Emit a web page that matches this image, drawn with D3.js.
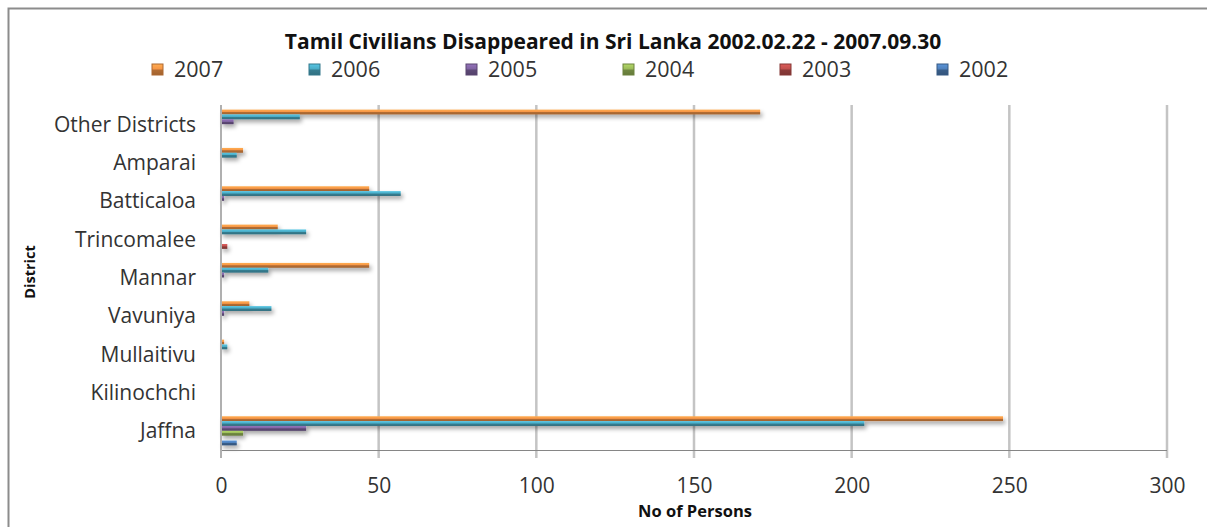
<!DOCTYPE html>
<html>
<head>
<meta charset="utf-8">
<script src="https://cdnjs.cloudflare.com/ajax/libs/d3/7.8.5/d3.min.js"></script>
<style>
  body { margin: 0; background: #fff; }
  svg { display: block; }
</style>
</head>
<body>
<div id="chart"></div>
<script>
// districts, bottom (Jaffna) to top (Other Districts)
let districts = ["Jaffna", "Kilinochchi", "Mullaitivu", "Vavuniya", "Mannar",
                 "Trincomalee", "Batticaloa", "Amparai", "Other Districts"];

let years = ["2007", "2006", "2005", "2004", "2003", "2002"];

// values per year, same order as districts
let v2007 = [248, 0, 1, 9, 47, 18, 47, 7, 171];
let v2006 = [204, 0, 2, 16, 15, 27, 57, 5, 25];
let v2005 = [27, 0, 0, 1, 1, 0, 1, 0, 4];
let v2004 = [7, 0, 0, 0, 0, 0, 0, 0, 0];
let v2003 = [0, 0, 0, 0, 0, 2, 0, 0, 0];
let v2002 = [5, 0, 0, 0, 0, 0, 0, 0, 0];

let xTicks = [0, 50, 100, 150, 200, 250, 300];

let seriesValues = { "2007": v2007, "2006": v2006, "2005": v2005,
                     "2004": v2004, "2003": v2003, "2002": v2002 };

let colors = { "2007": "#F79646", "2006": "#4BACC6", "2005": "#8064A2",
               "2004": "#9BBB59", "2003": "#C0504D", "2002": "#4F81BD" };

let svgWidth = 1207;
let svgHeight = 527;

let plot = { left: 221, right: 1167, top: 105, bottom: 450 };

let svg = d3.select("#chart")
  .append("svg")
  .attr("width", svgWidth)
  .attr("height", svgHeight);

let defs = svg.append("defs");

// soft shadow under the bars
let shadow = defs.append("filter")
  .attr("id", "shadow")
  .attr("x", "-5%").attr("y", "-50%")
  .attr("width", "120%").attr("height", "300%");
shadow.append("feDropShadow")
  .attr("dx", 2).attr("dy", 3)
  .attr("stdDeviation", 2)
  .attr("flood-color", "#000")
  .attr("flood-opacity", 0.35);

// bevelled look for each series colour
years.forEach(function(y) {
  let c = d3.color(colors[y]);
  let g = defs.append("linearGradient")
    .attr("id", "grad" + y)
    .attr("x1", 0).attr("y1", 0).attr("x2", 0).attr("y2", 1);
  g.append("stop").attr("offset", "0%").attr("stop-color", c.brighter(0.4));
  g.append("stop").attr("offset", "45%").attr("stop-color", c);
  g.append("stop").attr("offset", "55%").attr("stop-color", c.darker(0.9));
  g.append("stop").attr("offset", "100%").attr("stop-color", c.darker(1.2));
});

// chart border
svg.append("rect")
  .attr("x", 8.5).attr("y", 8.5)
  .attr("width", 1220).attr("height", 540)
  .attr("fill", "none")
  .attr("stroke", "#8c8c8c")
  .attr("stroke-width", 2);

let xScale = d3.scaleLinear()
  .domain([0, 300])
  .range([plot.left, plot.right]);

let yScale = d3.scaleBand()
  .domain(districts.slice().reverse())
  .range([plot.top, plot.bottom])
  .paddingInner(0.24)
  .paddingOuter(0.12);

let yInner = d3.scaleBand()
  .domain(years)
  .range([0, yScale.bandwidth()]);

// vertical gridlines
svg.append("g")
  .selectAll("line")
  .data(xTicks.slice(1))
  .enter()
  .append("line")
  .attr("x1", d => xScale(d)).attr("x2", d => xScale(d))
  .attr("y1", plot.top).attr("y2", plot.bottom + 8)
  .attr("stroke", "#c4c4c4")
  .attr("stroke-width", 2.5);

// bars
let barGroup = svg.append("g").attr("filter", "url(#shadow)");
years.forEach(function(y) {
  barGroup.append("g")
    .selectAll("rect")
    .data(districts.map((d, i) => ({ district: d, value: seriesValues[y][i] })).filter(d => d.value > 0))
    .enter()
    .append("rect")
    .attr("x", xScale(0))
    .attr("y", d => yScale(d.district) + yInner(y))
    .attr("width", d => xScale(d.value) - xScale(0))
    .attr("height", yInner.bandwidth())
    .attr("fill", "url(#grad" + y + ")");
});

// x axis line and left axis line
svg.append("line")
  .attr("x1", plot.left).attr("x2", plot.right)
  .attr("y1", plot.bottom + 0.5).attr("y2", plot.bottom + 0.5)
  .attr("stroke", "#868686").attr("stroke-width", 1);
svg.append("line")
  .attr("x1", plot.left).attr("x2", plot.left)
  .attr("y1", plot.top).attr("y2", plot.bottom + 8)
  .attr("stroke", "#b0b0b0").attr("stroke-width", 2);

// x tick labels
let bottomAxis = d3.axisBottom(xScale).tickValues(xTicks).tickSize(0).tickPadding(0);
let xAxis = svg.append("g")
  .attr("transform", `translate(0, ${plot.bottom})`)
  .call(bottomAxis);
xAxis.select(".domain").remove();
xAxis.selectAll("text")
  .attr("y", 43)
  .attr("dy", 0)
  .attr("font-family", "'Open Sans', sans-serif")
  .attr("font-size", "21px")
  .attr("fill", "#333");

// district labels
let leftAxis = d3.axisLeft(yScale).tickSize(0).tickPadding(25);
let yAxis = svg.append("g")
  .attr("transform", `translate(${plot.left}, 0)`)
  .call(leftAxis);
yAxis.select(".domain").remove();
yAxis.selectAll("text")
  .attr("dy", "0.35em")
  .attr("font-family", "'Open Sans', sans-serif")
  .attr("font-size", "21px")
  .attr("fill", "#333");

// title
svg.append("text")
  .attr("x", 613).attr("y", 49)
  .attr("text-anchor", "middle")
  .attr("font-family", "'Open Sans', sans-serif")
  .attr("font-weight", "bold")
  .attr("font-size", "21px")
  .attr("fill", "#111")
  .text("Tamil Civilians Disappeared in Sri Lanka 2002.02.22 - 2007.09.30");

// legend
let legend = svg.append("g")
  .selectAll("g")
  .data(years)
  .enter()
  .append("g")
  .attr("transform", (d, i) => `translate(${152 + i * 157}, 64)`);
legend.append("rect")
  .attr("width", 11).attr("height", 11)
  .attr("fill", d => "url(#grad" + d + ")")
  .attr("stroke", d => d3.color(colors[d]).darker(1))
  .attr("stroke-width", 1);
legend.append("text")
  .attr("x", 22).attr("y", 13)
  .attr("font-family", "'Open Sans', sans-serif")
  .attr("font-size", "21.5px")
  .attr("fill", "#333")
  .text(d => d);

// axis titles
svg.append("text")
  .attr("x", 695).attr("y", 517)
  .attr("text-anchor", "middle")
  .attr("font-family", "'Open Sans', sans-serif")
  .attr("font-weight", "bold")
  .attr("font-size", "16.5px")
  .attr("fill", "#111")
  .text("No of Persons");

svg.append("text")
  .attr("transform", "translate(35, 272) rotate(-90)")
  .attr("text-anchor", "middle")
  .attr("font-family", "'Open Sans', sans-serif")
  .attr("font-weight", "bold")
  .attr("font-size", "14.5px")
  .attr("fill", "#111")
  .text("District");
</script>
</body>
</html>
